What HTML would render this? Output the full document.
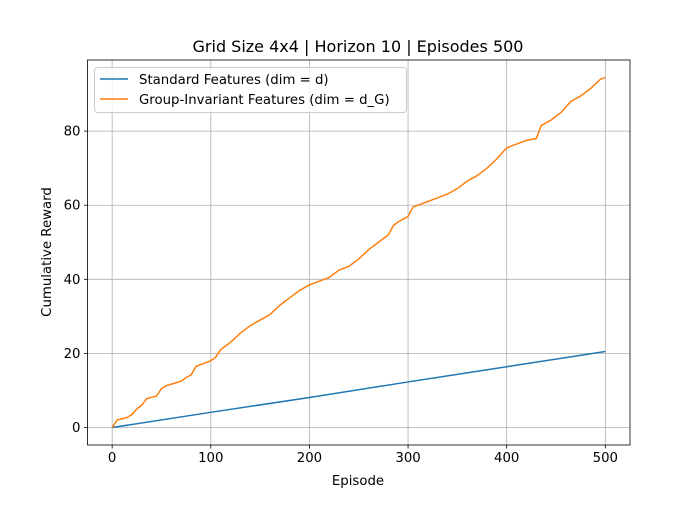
<!DOCTYPE html>
<html><head><meta charset="utf-8"><style>
body{margin:0;background:#fff}
svg{font-family:"DejaVu Sans","Liberation Sans",sans-serif}
</style></head><body>
<svg id="c" width="700" height="500" xmlns="http://www.w3.org/2000/svg"></svg>
<script>
const xTicks=[0,100,200,300,400,500];
const yTicks=[0,20,40,60,80];
const stdEpisodes=[0,100,200,300,400,500];
const stdValues=[0,4.1,8.1,12.3,16.4,20.5];
const grpEpisodes=[0,5,15,20,25,30,35,45,50,55,70,75,80,85,100,105,110,120,130,140,150,160,170,180,190,200,210,220,230,240,250,260,270,280,285,290,300,305,315,330,340,350,360,370,380,390,400,410,420,430,435,445,455,465,475,485,495,500];
const grpValues=[0,2,2.7,3.5,5,6,7.8,8.5,10.5,11.3,12.5,13.5,14.2,16.5,18,19,21,23,25.5,27.5,29,30.5,33,35,37,38.5,39.5,40.5,42.5,43.5,45.5,48,50,52,54.5,55.5,57,59.5,60.5,62,63,64.5,66.5,68,70,72.5,75.5,76.5,77.5,78,81.5,83,85,88,89.5,91.5,94,94.5];
const L=87.5,R=630,T=60,B=445,xmin=-25,xmax=525,ymin=-4.725,ymax=99.2;
const sx=v=>L+(v-xmin)/(xmax-xmin)*(R-L);
const sy=v=>B-(v-ymin)/(ymax-ymin)*(B-T);
const svg=document.getElementById('c');const NS='http://www.w3.org/2000/svg';
function mk(t,a,p){const e=document.createElementNS(NS,t);for(const k in a)e.setAttribute(k,a[k]);(p||svg).appendChild(e);return e;}
xTicks.forEach(v=>{const x=sx(v);
const g=mk('line',{x1:x,x2:x,y1:T,y2:B,stroke:'#b0b0b0','stroke-width':0.8});


mk('line',{x1:x,x2:x,y1:B,y2:B+3.5,stroke:'#000','stroke-width':0.8});
const t=mk('text',{x:x,y:B+17,'text-anchor':'middle','font-size':'13.3'});t.textContent=v;

});
yTicks.forEach(v=>{const y=sy(v);
const g=mk('line',{x1:L,x2:R,y1:y,y2:y,stroke:'#b0b0b0','stroke-width':0.8});


mk('line',{x1:L-3.5,x2:L,y1:y,y2:y,stroke:'#000','stroke-width':0.8});
const t=mk('text',{x:L-7,y:y+4.5,'text-anchor':'end','font-size':'13.3'});t.textContent=v;

});
function line(xs,ys,c,n){const p=mk('polyline',{points:xs.map((x,i)=>sx(x)+','+sy(ys[i])).join(' '),fill:'none',stroke:c,'stroke-width':1.5});

}
line(stdEpisodes,stdValues,'#1f77b4','standard-features-line');
line(grpEpisodes,grpValues,'#ff7f0e','group-invariant-line');
const fr=mk('rect',{x:L,y:T,width:R-L,height:B-T,fill:'none',stroke:'#000','stroke-width':0.8});


</script>
<svg width="700" height="500" style="position:absolute;left:0;top:0" font-family="DejaVu Sans, Liberation Sans, sans-serif">
<text x="358" y="52" text-anchor="middle" font-size="16">Grid Size 4x4 | Horizon 10 | Episodes 500</text>
<text x="358" y="485" text-anchor="middle" font-size="13.3">Episode</text>
<text x="51" y="252" text-anchor="middle" font-size="13.3" transform="rotate(-90 51 252)">Cumulative Reward</text>
<g>
<rect x="94.5" y="67.5" width="312" height="45" rx="3" fill="#fff" fill-opacity="0.8" stroke="#ccc"/>
<g><line x1="100" x2="128" y1="79" y2="79" stroke="#1f77b4" stroke-width="1.5"/><text x="139" y="84" font-size="13.3">Standard Features (dim = d)</text></g>
<g><line x1="100" x2="128" y1="99" y2="99" stroke="#ff7f0e" stroke-width="1.5"/><text x="139" y="104" font-size="13.3">Group-Invariant Features (dim = d_G)</text></g>
</g>
</svg>
</body></html>
